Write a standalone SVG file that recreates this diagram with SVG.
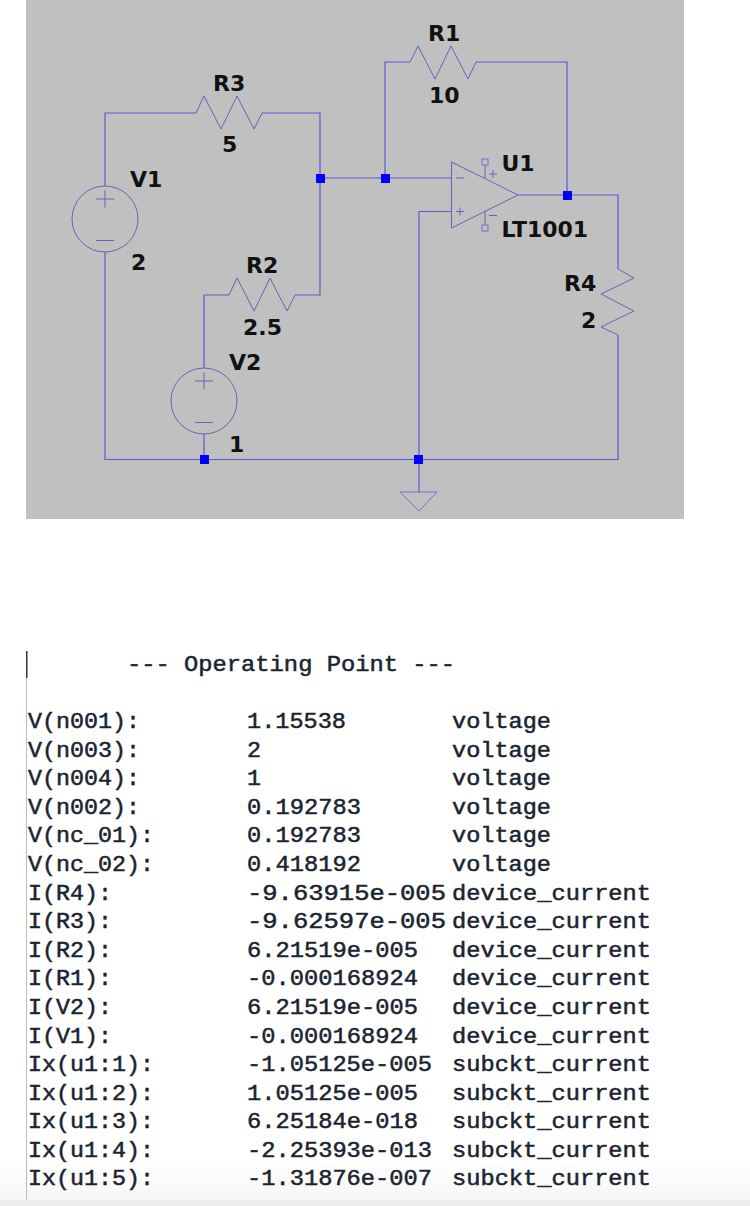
<svg xmlns="http://www.w3.org/2000/svg" width="750" height="1206" viewBox="0 0 750 1206">
<defs><linearGradient id="fade" x1="0" y1="0" x2="0" y2="1"><stop offset="0" stop-color="#fff"/><stop offset="1" stop-color="#f6f6f6"/></linearGradient></defs>
<style>
.w{fill:none;stroke:#5a5ad4;stroke-width:1.2}
.s{fill:none;stroke:#6464b4;stroke-width:1}
.p{fill:none;stroke:#7070d0;stroke-width:1}
.j{fill:#0000ff}
.l{font-family:"DejaVu Sans",Verdana,sans-serif;font-weight:700;font-size:22px;fill:#111}
.m{font-family:"Liberation Mono","Courier New",monospace;font-size:22px;fill:#1a2430;stroke:#1a2430;stroke-width:.5}
</style>
<rect width="750" height="1206" fill="#fff"/>
<rect y="1160" width="750" height="40" fill="url(#fade)"/>
<rect y="1200" width="750" height="6" fill="#eeeeee"/>
<rect x="26" y="0" width="658" height="519" fill="#c0c0c0"/>
<g id="connectors">
<path class="w" d="M105 186V113H196M262 113H320V295H295M229 295H204V368M105 252V459.500H618V335M204 434V459.500M320 178H451M385 178V62H410M476 62H567V195M419 211.500H451M419 211.500V492M518 195H618V269"/>
</g>
<g id="junctions">
<rect class="j" x="316" y="174" width="9" height="9"/>
<rect class="j" x="381" y="174" width="9" height="9"/>
<rect class="j" x="563" y="191" width="9" height="9"/>
<rect class="j" x="200" y="455" width="9" height="9"/>
<rect class="j" x="414" y="455" width="9" height="9"/>
</g>
<g id="R3"><path class="s" d="M196 113L204 96L221 129L237 96L254 129L262 113"/><text class="l" x="213" y="91">R3</text><text class="l" x="222" y="152">5</text></g>
<g id="R1"><path class="s" d="M410 62L418 46L435 79L451 46L468 79L476 62"/><text class="l" x="428" y="41">R1</text><text class="l" x="429" y="103">10</text></g>
<g id="R2"><path class="s" d="M229 295L237 278L254 311L270 278L287 311L295 295"/><text class="l" x="246" y="273">R2</text><text class="l" x="243" y="335">2.5</text></g>
<g id="R4"><path class="s" d="M618 269L634 278L601 294L634 311L601 327L618 335"/><text class="l" x="564" y="291">R4</text><text class="l" x="581" y="328">2</text></g>
<g id="V1"><circle class="s" cx="105" cy="219" r="33"/><path class="s" d="M96 199H114M105 190.500V207.500M96 240.500H114"/><text class="l" x="130" y="187">V1</text><text class="l" x="131" y="270">2</text></g>
<g id="V2"><circle class="s" cx="204" cy="401" r="33"/><path class="s" d="M195 381H213M204 372.500V389.500M195 422.500H213"/><text class="l" x="229" y="370">V2</text><text class="l" x="229" y="452">1</text></g>
<g id="U1"><path class="s" d="M451.500 162V228L518 195ZM456 178H464M456 211.500H464M460 207.500V215.500M489 174H497M493 170V178M489 215.500H497"/><path class="s" d="M485 165V178M485 211.500V225"/><rect class="p" x="482" y="159" width="6" height="6"/><rect class="p" x="482" y="225" width="6" height="6"/><text class="l" x="501.500" y="171">U1</text><text class="l" x="501.500" y="237">LT1001</text></g>
<g id="GND"><path class="p" d="M400 492H437L419 511Z"/></g>
<g id="log">
<rect x="26" y="651" width="1.500" height="27" fill="#333"/>
<rect x="26" y="678" width="1" height="522" fill="#bbb"/>
<text class="m" x="127" y="671" textLength="328" lengthAdjust="spacingAndGlyphs">--- Operating Point ---</text>
<g class="m">
<text x="28" y="728" textLength="112" lengthAdjust="spacingAndGlyphs">V(n001):</text><text x="247" y="728" textLength="99" lengthAdjust="spacingAndGlyphs">1.15538</text><text x="452" y="728" textLength="99" lengthAdjust="spacingAndGlyphs">voltage</text>
<text x="28" y="757" textLength="112" lengthAdjust="spacingAndGlyphs">V(n003):</text><text x="247" y="757" textLength="14" lengthAdjust="spacingAndGlyphs">2</text><text x="452" y="757" textLength="99" lengthAdjust="spacingAndGlyphs">voltage</text>
<text x="28" y="785" textLength="112" lengthAdjust="spacingAndGlyphs">V(n004):</text><text x="247" y="785" textLength="14" lengthAdjust="spacingAndGlyphs">1</text><text x="452" y="785" textLength="99" lengthAdjust="spacingAndGlyphs">voltage</text>
<text x="28" y="814" textLength="112" lengthAdjust="spacingAndGlyphs">V(n002):</text><text x="247" y="814" textLength="114" lengthAdjust="spacingAndGlyphs">0.192783</text><text x="452" y="814" textLength="99" lengthAdjust="spacingAndGlyphs">voltage</text>
<text x="28" y="842" textLength="126" lengthAdjust="spacingAndGlyphs">V(nc_01):</text><text x="247" y="842" textLength="114" lengthAdjust="spacingAndGlyphs">0.192783</text><text x="452" y="842" textLength="99" lengthAdjust="spacingAndGlyphs">voltage</text>
<text x="28" y="871" textLength="126" lengthAdjust="spacingAndGlyphs">V(nc_02):</text><text x="247" y="871" textLength="114" lengthAdjust="spacingAndGlyphs">0.418192</text><text x="452" y="871" textLength="99" lengthAdjust="spacingAndGlyphs">voltage</text>
<text x="28" y="900" textLength="84" lengthAdjust="spacingAndGlyphs">I(R4):</text><text x="247" y="900" textLength="199" lengthAdjust="spacingAndGlyphs">-9.63915e-005</text><text x="452" y="900" textLength="199" lengthAdjust="spacingAndGlyphs">device_current</text>
<text x="28" y="928" textLength="84" lengthAdjust="spacingAndGlyphs">I(R3):</text><text x="247" y="928" textLength="199" lengthAdjust="spacingAndGlyphs">-9.62597e-005</text><text x="452" y="928" textLength="199" lengthAdjust="spacingAndGlyphs">device_current</text>
<text x="28" y="957" textLength="84" lengthAdjust="spacingAndGlyphs">I(R2):</text><text x="247" y="957" textLength="171" lengthAdjust="spacingAndGlyphs">6.21519e-005</text><text x="452" y="957" textLength="199" lengthAdjust="spacingAndGlyphs">device_current</text>
<text x="28" y="985" textLength="84" lengthAdjust="spacingAndGlyphs">I(R1):</text><text x="247" y="985" textLength="171" lengthAdjust="spacingAndGlyphs">-0.000168924</text><text x="452" y="985" textLength="199" lengthAdjust="spacingAndGlyphs">device_current</text>
<text x="28" y="1014" textLength="84" lengthAdjust="spacingAndGlyphs">I(V2):</text><text x="247" y="1014" textLength="171" lengthAdjust="spacingAndGlyphs">6.21519e-005</text><text x="452" y="1014" textLength="199" lengthAdjust="spacingAndGlyphs">device_current</text>
<text x="28" y="1043" textLength="84" lengthAdjust="spacingAndGlyphs">I(V1):</text><text x="247" y="1043" textLength="171" lengthAdjust="spacingAndGlyphs">-0.000168924</text><text x="452" y="1043" textLength="199" lengthAdjust="spacingAndGlyphs">device_current</text>
<text x="28" y="1071" textLength="126" lengthAdjust="spacingAndGlyphs">Ix(u1:1):</text><text x="247" y="1071" textLength="185" lengthAdjust="spacingAndGlyphs">-1.05125e-005</text><text x="452" y="1071" textLength="199" lengthAdjust="spacingAndGlyphs">subckt_current</text>
<text x="28" y="1100" textLength="126" lengthAdjust="spacingAndGlyphs">Ix(u1:2):</text><text x="247" y="1100" textLength="171" lengthAdjust="spacingAndGlyphs">1.05125e-005</text><text x="452" y="1100" textLength="199" lengthAdjust="spacingAndGlyphs">subckt_current</text>
<text x="28" y="1128" textLength="126" lengthAdjust="spacingAndGlyphs">Ix(u1:3):</text><text x="247" y="1128" textLength="171" lengthAdjust="spacingAndGlyphs">6.25184e-018</text><text x="452" y="1128" textLength="199" lengthAdjust="spacingAndGlyphs">subckt_current</text>
<text x="28" y="1157" textLength="126" lengthAdjust="spacingAndGlyphs">Ix(u1:4):</text><text x="247" y="1157" textLength="185" lengthAdjust="spacingAndGlyphs">-2.25393e-013</text><text x="452" y="1157" textLength="199" lengthAdjust="spacingAndGlyphs">subckt_current</text>
<text x="28" y="1185" textLength="126" lengthAdjust="spacingAndGlyphs">Ix(u1:5):</text><text x="247" y="1185" textLength="185" lengthAdjust="spacingAndGlyphs">-1.31876e-007</text><text x="452" y="1185" textLength="199" lengthAdjust="spacingAndGlyphs">subckt_current</text>
</g>
</g>
</svg>
